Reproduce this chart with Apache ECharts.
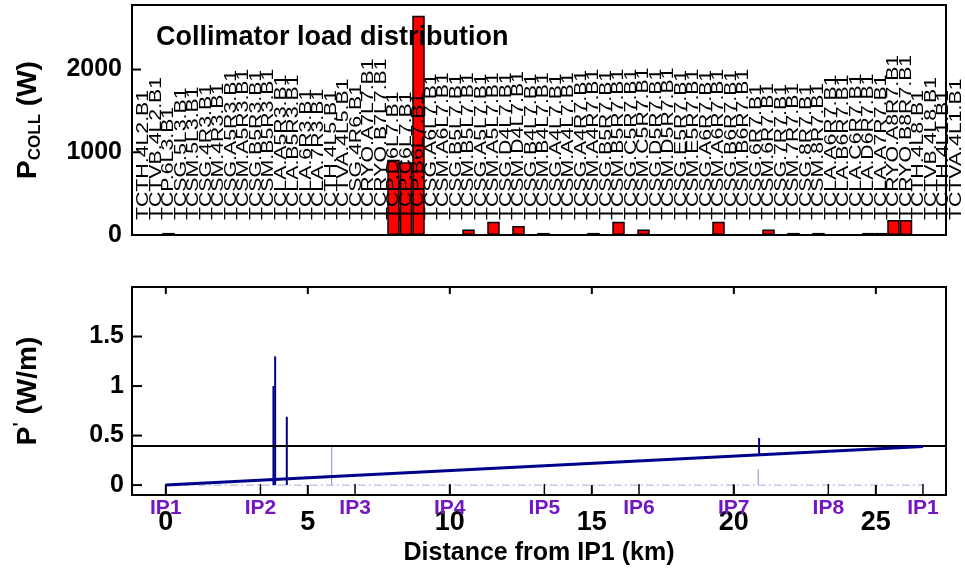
<!DOCTYPE html>
<html><head><meta charset="utf-8">
<script src="https://cdn.jsdelivr.net/npm/echarts@6/dist/echarts.min.js"></script>
<style>html,body{margin:0;padding:0;background:#fff}#c{width:965px;height:577px}</style>
</head><body><div id="c"></div><script>
const collimators = [
'TCTH.4L2.B1','TCTVB.4L2.B1','TCP.6L3.B1','TCSG.5L3.B1','TCSM.5L3.B1','TCSG.4R3.B1','TCSM.4R3.B1',
'TCSG.A5R3.B1','TCSM.A5R3.B1','TCSG.B5R3.B1','TCSM.B5R3.B1','TCLA.A5R3.B1','TCLA.B5R3.B1',
'TCLA.6R3.B1','TCLA.7R3.B1','TCTH.4L5.B1','TCTVA.4L5.B1','TCSG.4R6.B1','TCRYO.A7L7.B1','TCRYO.B7L7.B1',
'TCP.D6L7.B1','TCP.C6L7.B1','TCP.B6L7.B1',
'TCSG.A6L7.B1','TCSM.A6L7.B1','TCSG.B5L7.B1','TCSM.B5L7.B1','TCSG.A5L7.B1','TCSM.A5L7.B1',
'TCSG.D4L7.B1','TCSM.D4L7.B1','TCSG.B4L7.B1','TCSM.B4L7.B1','TCSG.A4L7.B1','TCSM.A4L7.B1',
'TCSG.A4R7.B1','TCSM.A4R7.B1','TCSG.B5R7.B1','TCSM.B5R7.B1','TCSG.C5R7.B1','TCSM.C5R7.B1',
'TCSG.D5R7.B1','TCSM.D5R7.B1','TCSG.E5R7.B1','TCSM.E5R7.B1','TCSG.A6R7.B1','TCSM.A6R7.B1',
'TCSG.B6R7.B1','TCSM.B6R7.B1','TCSG.6R7.B1','TCSM.6R7.B1','TCSG.7R7.B1','TCSM.7R7.B1',
'TCSG.8R7.B1','TCSM.8R7.B1',
'TCLA.A6R7.B1','TCLA.B6R7.B1','TCLA.C6R7.B1','TCLA.D6R7.B1','TCLA.A7R7.B1',
'TCRYO.A8R7.B1','TCRYO.B8R7.B1','TCTH.4L8.B1','TCTVB.4L8.B1','TCTH.4L1.B1','TCTVA.4L1.B1'
];
const loads = [
0,0,25,0,0,0,0,0,0,0,0,0,0,0,0,0,0,0,0,0,
910,880,2650,
0,0,0,65,0,160,0,110,0,25,0,0,0,25,0,160,0,65,0,0,0,0,0,160,0,0,0,65,0,25,0,25,
0,0,0,25,25,
180,180,0,0,0,0
];
const ipNames = ['IP1','IP2','IP3','IP4','IP5','IP6','IP7','IP8','IP1'];
const ipPositions = [0, 3.332, 6.664, 9.997, 13.329, 16.661, 19.994, 23.326, 26.659];
const kmTicks = [0, 5, 10, 15, 20, 25];
const powerTicks = [0, 1000, 2000];
const densityTicks = [0, 0.5, 1, 1.5];
const cumulativeLine = [[0, 0], [26.659, 0.39]];
const baselineTrace = [[0, 0], [26.659, 0]];
const darkSpikes = [[3.79, 0, 1.0], [3.85, 0, 1.3], [4.26, 0, 0.69], [20.89, 0.3, 0.475]];
const lightSpikes = [[5.84, 0, 0.405], [20.86, 0, 0.16], [4.26, 0, 0.07]];
const threshold = 0.4;

const fam = "'Liberation Sans', Arial, Helvetica, sans-serif";
const chart = echarts.init(document.getElementById('c'), null, {renderer: 'canvas'});
const bold = (s, extra) => Object.assign({fontFamily: fam, fontWeight: 'bold', fontSize: s, color: '#000'}, extra || {});
const noLine = {show: false, onZero: false};
const noTick = {show: false};

function spikeSeries(data, color, width) {
  return {
    type: 'custom', xAxisIndex: 1, yAxisIndex: 1, data: data, z: 4,
    renderItem: function (params, api) {
      const a = api.coord([api.value(0), api.value(1)]);
      const b = api.coord([api.value(0), api.value(2)]);
      return {type: 'line', shape: {x1: a[0], y1: a[1], x2: b[0], y2: b[1]},
        style: {stroke: color, lineWidth: width}};
    }
  };
}
// tick marks drawn through the axes' scales; side: 'left' | 'bottom' | 'top'
function tickSeries(xi, yi, values, side, len, width) {
  return {
    type: 'custom', xAxisIndex: xi, yAxisIndex: yi, z: 6, silent: true,
    data: values.map(v => [v]),
    renderItem: function (params, api) {
      const cs = params.coordSys;
      const v = api.value(0);
      let shape;
      if (side === 'left') {
        const y = api.coord([0, v])[1];
        shape = {x1: cs.x, y1: y, x2: cs.x + len, y2: y};
      } else if (side === 'bottom') {
        const x = api.coord([v, 0])[0];
        shape = {x1: x, y1: cs.y + cs.height, x2: x, y2: cs.y + cs.height - len};
      } else {
        const x = api.coord([v, 0])[0];
        shape = {x1: x, y1: cs.y, x2: x, y2: cs.y + len};
      }
      return {type: 'line', shape: shape, style: {stroke: '#000', lineWidth: width}};
    }
  };
}

const option = {
  animation: false,
  backgroundColor: '#fff',
  title: {text: 'Collimator load distribution', left: 151, top: 19,
    textStyle: bold(27)},
  grid: [
    {left: 132, right: 19, top: 5, height: 230, show: true, borderColor: '#000', borderWidth: 2},
    {left: 132, right: 19, top: 287, height: 208, show: true, borderColor: '#000', borderWidth: 2}
  ],
  xAxis: [
    {gridIndex: 0, type: 'value', min: -0.92, max: 64.2, axisLine: noLine,
      axisTick: noTick, axisLabel: {show: false}, splitLine: {show: false}},
    {gridIndex: 1, type: 'value', min: -1.19, max: 27.47, position: 'bottom',
      axisLine: noLine, splitLine: {show: false}, axisTick: noTick,
      axisLabel: Object.assign({customValues: kmTicks, margin: 14}, bold(27)),
      name: 'Distance from IP1 (km)', nameLocation: 'middle', nameGap: 46,
      nameTextStyle: bold(25)},
    {gridIndex: 1, type: 'value', min: -1.19, max: 27.47, position: 'bottom',
      axisLine: noLine, splitLine: {show: false}, axisTick: noTick,
      axisLabel: Object.assign({customValues: ipPositions, margin: 3,
        formatter: function (v) { let k = 0; ipPositions.forEach((p, j) => { if (Math.abs(p - v) < Math.abs(ipPositions[k] - v)) k = j; }); return ipNames[k]; }},
        bold(21, {color: '#7316c4'}))}
  ],
  yAxis: [
    {gridIndex: 0, type: 'value', min: 0, max: 2780, axisLine: noLine, splitLine: {show: false},
      axisTick: noTick,
      axisLabel: Object.assign({customValues: powerTicks, margin: 10, formatter: v => String(v)}, bold(25)),
      name: '{p|P}{s|COLL}{p| (W)}', nameLocation: 'middle', nameRotate: 90, nameGap: 88,
      nameTextStyle: {rich: {
        p: bold(28),
        s: bold(17, {padding: [14, 0, 0, 0]})
      }}},
    {gridIndex: 1, type: 'value', min: -0.1, max: 2.0, axisLine: noLine, splitLine: {show: false},
      axisTick: noTick,
      axisLabel: Object.assign({customValues: densityTicks, margin: 8}, bold(25)),
      name: "{p|P}{q|'}{p| (W/m)}", nameLocation: 'middle', nameRotate: 90, nameGap: 88,
      nameTextStyle: {rich: {
        p: bold(28),
        q: bold(18, {padding: [0, 0, 14, 0]})
      }}}
  ],
  series: [
    {type: 'bar', xAxisIndex: 0, yAxisIndex: 0, barWidth: 12.5, z: 2,
      data: loads.map((v, i) => [i, v]).filter(d => d[1] > 0),
      itemStyle: {color: '#ff0000', borderColor: '#000', borderWidth: 1.5}},
    {type: 'custom', xAxisIndex: 0, yAxisIndex: 0, z: 3,
      data: collimators.map((n, i) => [i]),
      renderItem: function (params, api) {
        const i = api.value(0);
        const p = api.coord([i, 0]);
        return {type: 'text', x: p[0], y: p[1] - 15, rotation: Math.PI / 2, scaleX: 1.12, scaleY: 0.9,
          style: {text: collimators[i], fontFamily: fam, fontSize: 19, fill: '#000',
            align: 'left', verticalAlign: 'middle'}};
      }},
    {type: 'line', xAxisIndex: 1, yAxisIndex: 1, data: baselineTrace, symbol: 'none', z: 2,
      lineStyle: {color: '#a8a8e4', width: 1, type: [8, 3, 2, 3]}},
    spikeSeries(lightSpikes, '#9c9ce0', 1.2),
    spikeSeries(darkSpikes, '#00008b', 2),
    {type: 'line', xAxisIndex: 1, yAxisIndex: 1, data: cumulativeLine, symbol: 'none', z: 5,
      lineStyle: {color: '#00008b', width: 3},
      markLine: {symbol: 'none', silent: true, label: {show: false},
        lineStyle: {color: '#000', width: 2, type: 'solid'}, data: [{yAxis: threshold}]}},
    tickSeries(0, 0, powerTicks, 'left', 9, 2),
    tickSeries(1, 1, densityTicks, 'left', 10, 2),
    tickSeries(1, 1, kmTicks, 'bottom', 10, 2),
    tickSeries(1, 1, kmTicks, 'top', 7, 2),
    tickSeries(1, 1, ipPositions, 'bottom', 11, 1.5)
  ]
};
chart.setOption(option);
</script></body></html>
